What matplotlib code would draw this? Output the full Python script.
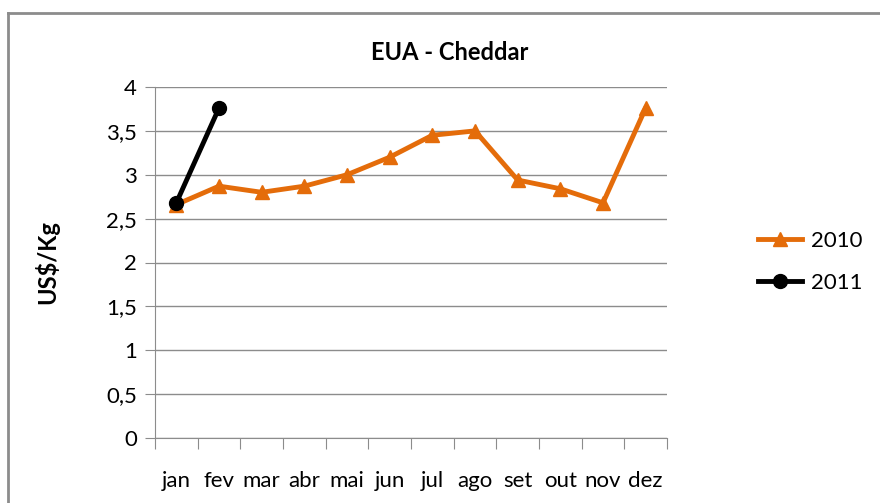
import matplotlib.pyplot as plt
from matplotlib.lines import Line2D

months = ["jan", "fev", "mar", "abr", "mai", "jun", "jul", "ago", "set", "out", "nov", "dez"]
vals_2010 = [2.66, 2.87, 2.80, 2.87, 3.00, 3.20, 3.45, 3.50, 2.94, 2.84, 2.68, 3.76]
vals_2011 = [2.68, 3.76]
yticks = [0, 0.5, 1, 1.5, 2, 2.5, 3, 3.5, 4]
ytick_labels = ["0", "0,5", "1", "1,5", "2", "2,5", "3", "3,5", "4"]

plt.rcParams['font.family'] = ['Lato', 'DejaVu Sans']

orange = "#E46C0A"

fig = plt.figure(figsize=(8.8, 5.03), dpi=100)
ax = fig.add_axes([155/880, 65/503, 512/880, 351/503])

x = list(range(len(months)))
ax.plot(x, vals_2010, color=orange, lw=3.5, marker="^", ms=10, label="2010")
ax.plot(x[:len(vals_2011)], vals_2011, color="black", lw=3.5, marker="o", ms=10, label="2011")

ax.set_xlim(-0.5, len(months) - 0.5)
ax.set_ylim(0, 4)
ax.set_yticks(yticks)
ax.set_yticklabels(ytick_labels, fontsize=16)
ax.yaxis.grid(True, color="#8c8c8c", lw=1)
ax.set_axisbelow(True)

ax.set_xticks([i - 0.5 for i in range(len(months) + 1)])
ax.set_xticklabels([])
ax.set_xticks(x, minor=True)
ax.set_xticklabels(months, minor=True, fontsize=16)
ax.tick_params(axis="x", which="major", length=8, color="#8c8c8c")
ax.tick_params(axis="x", which="minor", length=0, pad=24)
ax.tick_params(axis="y", length=7, color="#8c8c8c", pad=6)

for s in ["top", "right"]:
    ax.spines[s].set_visible(False)
for s in ["left", "bottom"]:
    ax.spines[s].set_color("#8c8c8c")

ax.set_ylabel("US$/Kg", fontsize=17, fontweight="bold", labelpad=34)
fig.text(450/880, 1 - 52/503, "EUA - Cheddar", ha="center", va="center",
         fontsize=17, fontweight="bold")

handles = [Line2D([], [], color=orange, lw=3.5, marker="^", ms=10),
           Line2D([], [], color="black", lw=3.5, marker="o", ms=10)]
fig.legend(handles, ["2010", "2011"], loc="center left", bbox_to_anchor=(758/880, 1 - 262/503),
           frameon=False, fontsize=16, handlelength=2.0, handletextpad=0.4, labelspacing=1.0,
           borderpad=0, borderaxespad=0)

# outer chart border (top and left only visible)
fig.add_artist(Line2D([8/880, 1], [1 - 13/503, 1 - 13/503], transform=fig.transFigure,
                      color="#8c8c8c", lw=2))
fig.add_artist(Line2D([8/880, 8/880], [0, 1 - 13/503], transform=fig.transFigure,
                      color="#8c8c8c", lw=2))

plt.savefig("out.png", dpi=100)
